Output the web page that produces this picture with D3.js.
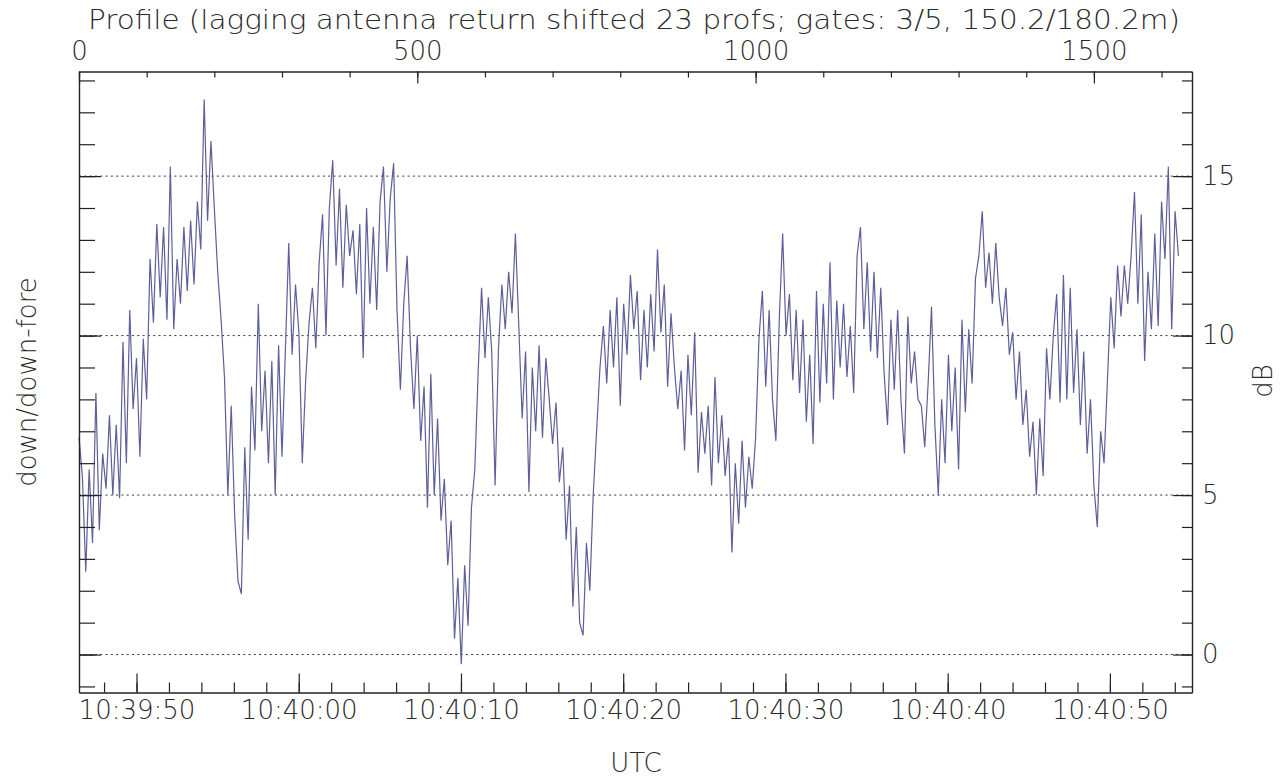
<!DOCTYPE html>
<html>
<head>
    <title>Profile - down/down-fore</title>
    <script src="https://d3js.org/d3.v7.min.js"></script>
    <style>
        body { margin: 0; background: #fff; }
        svg { display: block; }
        text { font-family: "DejaVu Sans", sans-serif; font-size: 26px; font-weight: 200; fill: #2a2a2a; }
    </style>
</head>
<body>
    <svg width="1284" height="778"></svg>

    <script>
        // down/down-fore ratio (dB), one reading every profileStep profiles
        const profileStep = 5;
        const ratioDb = [
            6.8, 5.6, 2.6, 5.8, 3.5, 8.2, 3.9, 6.3, 5.2, 7.5, 5.0, 7.2, 4.9, 9.8, 6.0, 10.8, 7.7, 9.3, 6.2, 9.9,
            8.0, 12.4, 10.4, 13.5, 11.2, 13.4, 10.5, 15.3, 10.2, 12.4, 11.0, 13.4, 11.4, 13.6, 11.6, 14.2, 12.7, 17.4, 13.6, 16.1,
            14.0, 12.0,
            10.5, 8.7, 5.0, 7.8, 4.4, 2.3, 1.9, 6.5, 3.6, 8.4, 6.4, 11.0, 7.0, 8.9, 6.0, 9.2, 5.0, 9.7, 6.2, 9.5,
            12.9, 9.4, 11.6, 10.1, 6.0, 8.6, 10.4, 11.5, 9.6, 12.3, 13.8, 10.0, 14.0, 15.5, 12.2, 14.6, 11.5, 14.1, 12.5, 13.3,
            11.3, 13.5,
            9.3, 14.0, 11.0, 13.4, 10.8, 14.2, 15.3, 12.0, 14.3, 15.4, 10.8, 8.3, 11.0, 12.5, 9.6, 7.7, 10.0, 6.7, 8.4, 4.6,
            8.8, 5.0, 7.4, 4.2, 5.5, 2.8, 4.2, 0.5, 2.4, -0.3, 2.8, 0.9, 4.6, 5.8, 8.9, 11.5, 9.3, 11.2, 9.5, 5.3,
            9.6,
            11.6, 10.2, 12.0, 10.7, 13.2, 10.3, 7.4, 9.5, 5.1, 9.0, 7.0, 9.7, 6.8, 9.3, 8.0, 6.6, 7.9, 5.4, 6.5, 3.6,
            5.3, 1.5, 4.0, 1.0, 0.6, 3.5, 2.0, 5.0, 7.0, 9.0, 10.3, 8.5, 10.8, 9.0, 11.2, 7.8, 11.0, 9.4, 11.9, 10.2,
            11.4,
            8.6, 10.8, 9.0, 11.3, 9.5, 12.7, 10.1, 11.6, 8.4, 10.7, 9.0, 7.7, 8.9, 6.4, 9.4, 7.5, 10.1, 5.7, 7.6, 6.3,
            7.8, 5.3, 8.7, 6.0, 7.5, 5.6, 6.8, 3.2, 6.0, 4.1, 6.7, 4.6, 6.2, 5.2, 6.8, 9.9, 11.4, 8.4, 10.8, 8.0,
            6.7, 10.5,
            13.2, 10.0, 11.3, 8.6, 10.8, 8.2, 10.5, 7.3, 9.4, 6.6, 11.4, 7.9, 11.0, 8.5, 12.3, 8.0, 11.1, 9.0, 11.0, 8.7,
            10.3, 8.2, 12.5, 13.4, 10.2, 12.3, 9.5, 12.0, 9.3, 11.5, 8.8, 7.2, 10.5, 8.3, 10.8, 7.9, 6.3, 10.6, 8.5, 9.5,
            8.0,
            7.8, 6.5, 8.5, 10.9, 7.2, 5.0, 8.0, 6.0, 9.4, 7.0, 9.0, 5.8, 10.5, 7.6, 10.2, 8.5, 11.8, 12.5, 13.9, 11.5,
            12.6, 11.0, 12.9, 11.2, 10.3, 11.5, 9.4, 10.1, 8.0, 9.5, 7.2, 8.3, 6.2, 7.3, 5.0, 7.4, 5.6, 9.6, 8.0, 10.0,
            11.3,
            7.9, 11.9, 8.0, 11.5, 8.2, 10.2, 7.2, 9.5, 6.3, 8.0, 5.3, 4.0, 7.0, 6.0, 8.6, 11.2, 9.6, 12.2, 10.6, 12.2,
            11.0, 12.5, 14.5, 11.0, 13.8, 9.2, 12.0, 10.2, 13.2, 10.3, 14.2, 12.4, 15.3, 10.2, 13.9, 12.5
        ];

        // axis ranges and ticks
        const profileRange = [0, 1645];
        const profileMajorTicks = [0, 500, 1000, 1500];
        const timeRange = ["2000-01-01T10:39:46.456", "2000-01-01T10:40:55.060"];
        const dbRange = [-1.19, 18.28];
        const dbMajorTicks = [0, 5, 10, 15];
        const dbMinorTicks = d3.range(-1, 19);

        const titleText = "Profile (lagging antenna return shifted 23 profs; gates: 3/5, 150.2/180.2m)";
        const leftLabel = "down/down-fore";
        const rightLabel = "dB";
        const bottomLabel = "UTC";

        const svg = d3.select("svg");
        const plotLeft = 79, plotRight = 1192, plotTop = 71.5, plotBottom = 692.5;

        const xProfile = d3.scaleLinear().domain(profileRange).range([plotLeft, plotRight]);
        const xTime = d3.scaleTime().domain(timeRange.map(d => new Date(d))).range([plotLeft, plotRight]);
        const y = d3.scaleLinear().domain(dbRange).range([plotBottom, plotTop]);

        // dotted reference lines
        svg.append("g").selectAll("line")
            .data(dbMajorTicks)
            .join("line")
            .attr("x1", plotLeft).attr("x2", plotRight)
            .attr("y1", d => y(d)).attr("y2", d => y(d))
            .attr("stroke", "#333")
            .attr("stroke-width", 1)
            .attr("stroke-dasharray", "2,3.3");

        // the trace
        const line = d3.line()
            .x((d, i) => xProfile(i * profileStep))
            .y(d => y(d));
        svg.append("path")
            .datum(ratioDb)
            .attr("fill", "none")
            .attr("stroke", "#5e5e9a")
            .attr("stroke-width", 1.2)
            .attr("d", line);

        function styleAxis(g) {
            g.selectAll("path").attr("stroke", "#222").attr("stroke-width", 1.2);
            g.selectAll("line").attr("stroke", "#222").attr("stroke-width", 1.2);
            g.selectAll("text").attr("font-family", null).attr("font-size", null).attr("fill", null);
        }

        // top axis: profile number
        svg.append("g").attr("transform", `translate(0,${plotTop})`)
            .call(d3.axisTop(xProfile).tickValues(d3.range(0, 1601, 100)).tickSize(-6).tickSizeOuter(0).tickFormat(""))
            .call(styleAxis);
        svg.append("g").attr("transform", `translate(0,${plotTop})`)
            .call(d3.axisTop(xProfile).tickValues(profileMajorTicks).tickSize(-12).tickSizeOuter(0).tickPadding(12).tickFormat(d3.format("d")))
            .call(styleAxis);

        // bottom axis: UTC time
        svg.append("g").attr("transform", `translate(0,${plotBottom})`)
            .call(d3.axisBottom(xTime).ticks(d3.timeSecond.every(2)).tickSize(-10).tickSizeOuter(0).tickFormat(""))
            .call(styleAxis);
        svg.append("g").attr("transform", `translate(0,${plotBottom})`)
            .call(d3.axisBottom(xTime).ticks(d3.timeSecond.every(10)).tickSize(-19).tickSizeOuter(0).tickPadding(8).tickFormat(d3.timeFormat("%H:%M:%S")))
            .call(styleAxis);

        // left axis: ticks only
        svg.append("g").attr("transform", `translate(${plotLeft},0)`)
            .call(d3.axisLeft(y).tickValues(dbMinorTicks).tickSize(-16).tickSizeOuter(0).tickFormat(""))
            .call(styleAxis);
        svg.append("g").attr("transform", `translate(${plotLeft},0)`)
            .call(d3.axisLeft(y).tickValues(dbMajorTicks).tickSize(-22).tickSizeOuter(0).tickFormat(""))
            .call(styleAxis);

        // right axis: dB labels
        svg.append("g").attr("transform", `translate(${plotRight},0)`)
            .call(d3.axisRight(y).tickValues(dbMinorTicks).tickSize(-10).tickSizeOuter(0).tickFormat(""))
            .call(styleAxis);
        svg.append("g").attr("transform", `translate(${plotRight},0)`)
            .call(d3.axisRight(y).tickValues(dbMajorTicks).tickSize(-19).tickSizeOuter(0).tickPadding(10).tickFormat(d3.format("d")))
            .call(styleAxis)
            .selectAll("text").attr("text-anchor", "start");

        // titles
        svg.append("text")
            .attr("x", 634).attr("y", 29)
            .attr("text-anchor", "middle")
            .attr("textLength", 1092).attr("lengthAdjust", "spacingAndGlyphs")
            .text(titleText);

        svg.append("text")
            .attr("x", 636).attr("y", 772)
            .attr("text-anchor", "middle")
            .text(bottomLabel);

        svg.append("text")
            .attr("transform", "translate(36,382) rotate(-90)")
            .attr("text-anchor", "middle")
            .text(leftLabel);

        svg.append("text")
            .attr("transform", "translate(1272,381) rotate(-90)")
            .attr("text-anchor", "middle")
            .text(rightLabel);
    </script>
</body>
</html>
